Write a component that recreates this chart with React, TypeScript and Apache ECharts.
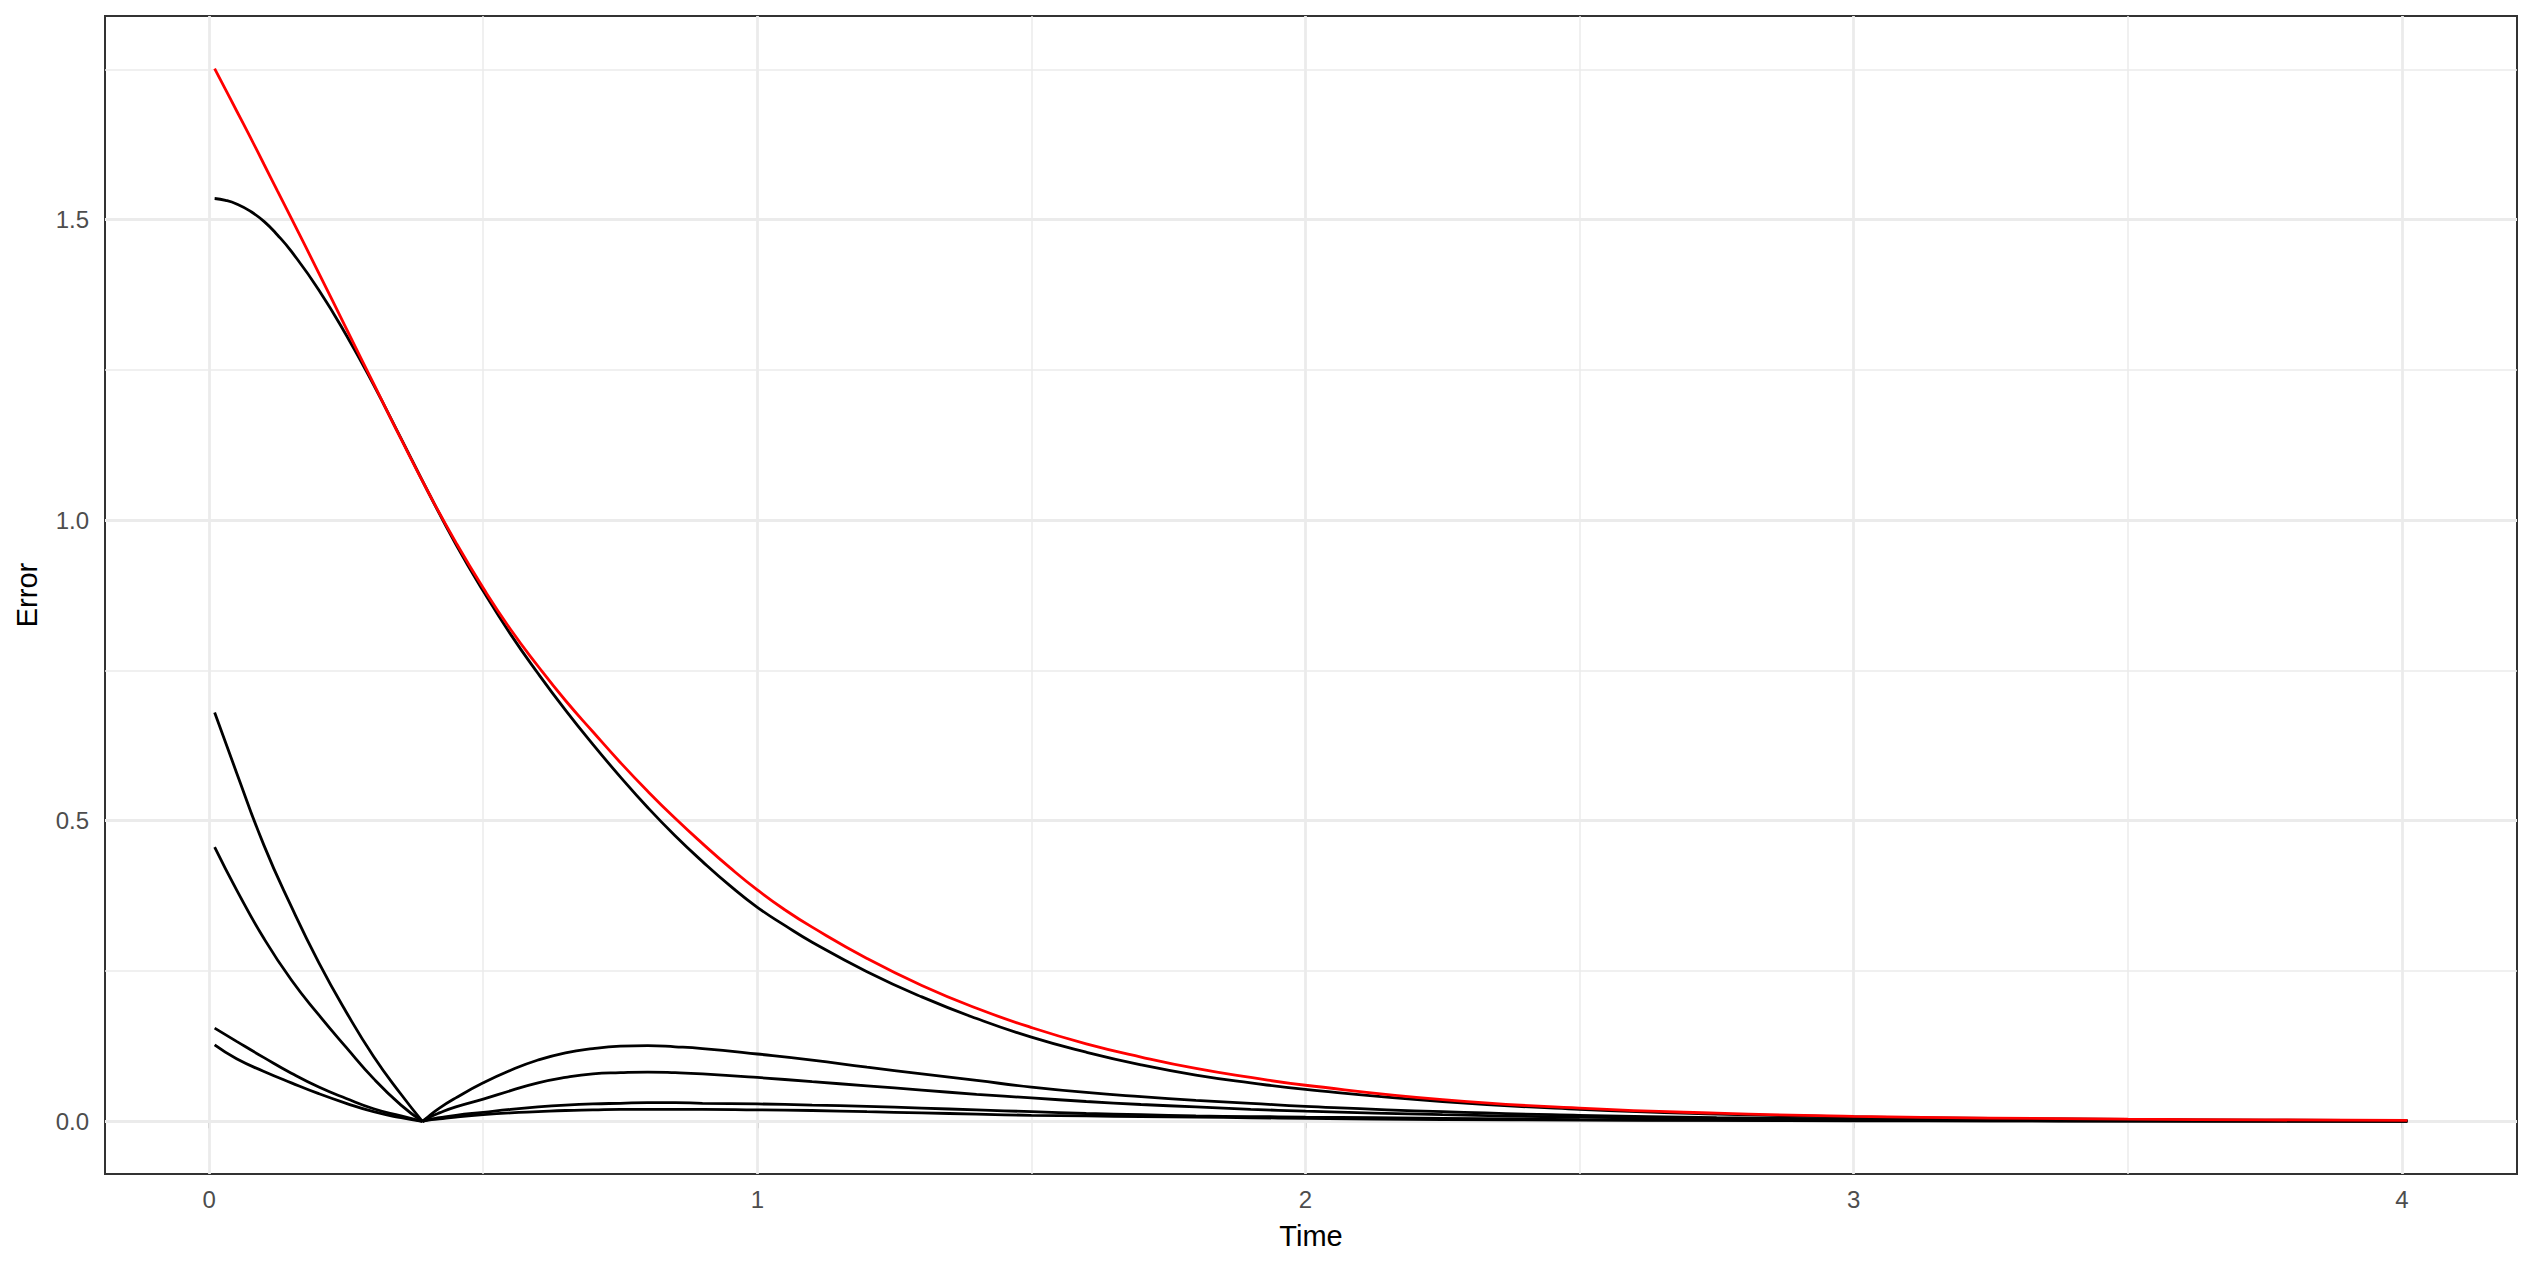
import React, { useEffect, useRef } from "react";
import * as echarts from "echarts";

// ---- data ----
const tFull = [0.01, 0.03, 0.05, 0.075, 0.1, 0.125, 0.15, 0.2, 0.25, 0.3, 0.35, 0.4, 0.45, 0.5, 0.55, 0.6, 0.65, 0.7, 0.75, 0.8, 0.85, 0.9, 0.95, 1.0, 1.05, 1.1, 1.2, 1.3, 1.4, 1.5, 1.6, 1.7, 1.8, 1.9, 2.0, 2.25, 2.5, 2.75, 3.0, 3.25, 3.5, 3.75, 4.01];
const redValues = [1.751, 1.716, 1.681, 1.637, 1.592, 1.547, 1.502, 1.411, 1.319, 1.227, 1.135, 1.046, 0.963, 0.887, 0.818, 0.757, 0.7, 0.648, 0.597, 0.549, 0.504, 0.462, 0.422, 0.385, 0.352, 0.323, 0.271, 0.226, 0.188, 0.156, 0.129, 0.107, 0.088, 0.073, 0.06, 0.036, 0.022, 0.0135, 0.0083, 0.0055, 0.0036, 0.0024, 0.0015];
const blackA = [1.535, 1.532, 1.526, 1.514, 1.497, 1.474, 1.447, 1.383, 1.308, 1.225, 1.136, 1.046, 0.96, 0.882, 0.81, 0.745, 0.684, 0.627, 0.573, 0.522, 0.475, 0.432, 0.392, 0.356, 0.326, 0.298, 0.249, 0.207, 0.171, 0.14, 0.115, 0.094, 0.077, 0.064, 0.053, 0.033, 0.02, 0.012, 0.0075, 0.0048, 0.0032, 0.002, 0.0012];

const tPre = [0.01, 0.05, 0.1, 0.15, 0.2, 0.25, 0.3, 0.35, 0.389];
const preB = [0.68, 0.58, 0.459, 0.357, 0.264, 0.182, 0.108, 0.045, 0.0];
const preC = [0.456, 0.385, 0.304, 0.235, 0.177, 0.123, 0.071, 0.027, 0.0];
const preD = [0.155, 0.133, 0.106, 0.08, 0.057, 0.038, 0.021, 0.009, 0.0];
const preE = [0.127, 0.104, 0.083, 0.064, 0.046, 0.03, 0.016, 0.006, 0.0];

const tPost = [0.389, 0.4, 0.42, 0.45, 0.5, 0.55, 0.6, 0.65, 0.7, 0.75, 0.8, 0.85, 0.9, 1.0, 1.1, 1.2, 1.3, 1.4, 1.5, 1.6, 1.7, 1.8, 1.9, 2.0, 2.25, 2.5, 2.75, 3.0, 3.25, 3.5, 3.75, 4.01];
const postB = [0.0, 0.008, 0.022, 0.039, 0.064, 0.085, 0.102, 0.114, 0.121, 0.125, 0.126, 0.124, 0.121, 0.112, 0.102, 0.09, 0.079, 0.068, 0.057, 0.048, 0.041, 0.035, 0.03, 0.025, 0.016, 0.01, 0.006, 0.004, 0.0025, 0.0015, 0.001, 0.0005];
const postC = [0.0, 0.006, 0.014, 0.024, 0.037, 0.051, 0.064, 0.073, 0.079, 0.081, 0.082, 0.081, 0.079, 0.073, 0.066, 0.059, 0.052, 0.045, 0.039, 0.033, 0.028, 0.024, 0.02, 0.017, 0.011, 0.007, 0.0045, 0.003, 0.002, 0.001, 0.0007, 0.0004];
const postD = [0.0, 0.003, 0.006, 0.01, 0.015, 0.02, 0.024, 0.027, 0.029, 0.03, 0.031, 0.031, 0.03, 0.029, 0.027, 0.025, 0.022, 0.019, 0.016, 0.013, 0.011, 0.009, 0.008, 0.007, 0.005, 0.003, 0.002, 0.0015, 0.001, 0.0007, 0.0005, 0.0003];
const postE = [0.0, 0.002, 0.004, 0.007, 0.011, 0.014, 0.016, 0.018, 0.019, 0.02, 0.02, 0.02, 0.02, 0.019, 0.018, 0.016, 0.014, 0.012, 0.01, 0.009, 0.008, 0.007, 0.006, 0.005, 0.003, 0.002, 0.0015, 0.001, 0.0007, 0.0005, 0.0003, 0.0002];

const xTicks = [0, 1, 2, 3, 4];
const xMinor = [0.5, 1.5, 2.5, 3.5];
const yTicks = [0, 0.5, 1.0, 1.5];
const yMinor = [0.25, 0.75, 1.25, 1.75];

const X_MIN = -0.19;
const X_MAX = 4.21;
const Y_MIN = -0.0876;
const Y_MAX = 1.8386;

const zip = (t: number[], v: number[]) => t.map((x, i) => [x, v[i]]);

const FONT = "Liberation Sans, Arial, Helvetica, sans-serif";

function gridLines(xs: number[], ys: number[]) {
  const out: any[] = [];
  xs.forEach((x) => out.push({ coords: [[x, Y_MIN], [x, Y_MAX]] }));
  ys.forEach((y) => out.push({ coords: [[X_MIN, y], [X_MAX, y]] }));
  return out;
}

function dataLine(name: string, data: number[][], color: string, z: number) {
  return {
    name,
    type: "line",
    data,
    showSymbol: false,
    symbol: "none",
    smooth: 0.5,
    lineStyle: { color, width: 2.8 },
    itemStyle: { color },
    silent: true,
    z,
  };
}

export default function App() {
  const ref = useRef<HTMLDivElement>(null);
  useEffect(() => {
    const chart = echarts.init(ref.current!, null, { renderer: "svg" });
    const option: any = {
      animation: false,
      backgroundColor: "#ffffff",
      grid: {
        left: 105,
        right: 17,
        top: 16,
        bottom: 93,
        show: true,
        borderColor: "#333333",
        borderWidth: 2,
        backgroundColor: "#ffffff",
      },
      xAxis: {
        type: "value",
        min: X_MIN,
        max: X_MAX,
        axisLine: { show: false },
        splitLine: { show: false },
        axisTick: {
          show: true,
          customValues: xTicks,
          length: 7,
          lineStyle: { color: "#333333", width: 2 },
        },
        axisLabel: {
          customValues: xTicks,
          margin: 13,
          fontSize: 24,
          color: "#4D4D4D",
          fontFamily: FONT,
          formatter: (v: number) => String(v),
        },
      },
      yAxis: {
        type: "value",
        min: Y_MIN,
        max: Y_MAX,
        axisLine: { show: false },
        splitLine: { show: false },
        axisTick: {
          show: true,
          customValues: yTicks,
          length: 7,
          lineStyle: { color: "#333333", width: 2 },
        },
        axisLabel: {
          customValues: yTicks,
          margin: 16,
          fontSize: 24,
          color: "#4D4D4D",
          fontFamily: FONT,
          formatter: (v: number) => v.toFixed(1),
        },
      },
      graphic: [
        {
          type: "text",
          x: 1311,
          y: 1236,
          style: {
            text: "Time",
            fontSize: 29,
            fontFamily: FONT,
            fill: "#000000",
            textAlign: "center",
            textVerticalAlign: "middle",
          },
        },
        {
          type: "text",
          x: 27,
          y: 595,
          rotation: Math.PI / 2,
          style: {
            text: "Error",
            fontSize: 29,
            fontFamily: FONT,
            fill: "#000000",
            textAlign: "center",
            textVerticalAlign: "middle",
          },
        },
      ],
      series: [
        {
          type: "lines",
          coordinateSystem: "cartesian2d",
          silent: true,
          z: 1,
          lineStyle: { color: "#EBEBEB", width: 1.5, opacity: 1 },
          data: gridLines(xMinor, yMinor),
        },
        {
          type: "lines",
          coordinateSystem: "cartesian2d",
          silent: true,
          z: 1,
          lineStyle: { color: "#EBEBEB", width: 2.8, opacity: 1 },
          data: gridLines(xTicks, yTicks),
        },
        dataLine("A", zip(tFull, blackA), "#000000", 3),
        dataLine("B1", zip(tPre, preB), "#000000", 3),
        dataLine("C1", zip(tPre, preC), "#000000", 3),
        dataLine("D1", zip(tPre, preD), "#000000", 3),
        dataLine("E1", zip(tPre, preE), "#000000", 3),
        dataLine("B2", zip(tPost, postB), "#000000", 3),
        dataLine("C2", zip(tPost, postC), "#000000", 3),
        dataLine("D2", zip(tPost, postD), "#000000", 3),
        dataLine("E2", zip(tPost, postE), "#000000", 3),
        dataLine("Red", zip(tFull, redValues), "#FF0000", 4),
      ],
    };
    chart.setOption(option);
    return () => chart.dispose();
  }, []);
  return (
    <div
      ref={ref}
      style={{ position: "fixed", left: 0, top: 0, width: 2534, height: 1267, background: "#ffffff" }}
    />
  );
}
